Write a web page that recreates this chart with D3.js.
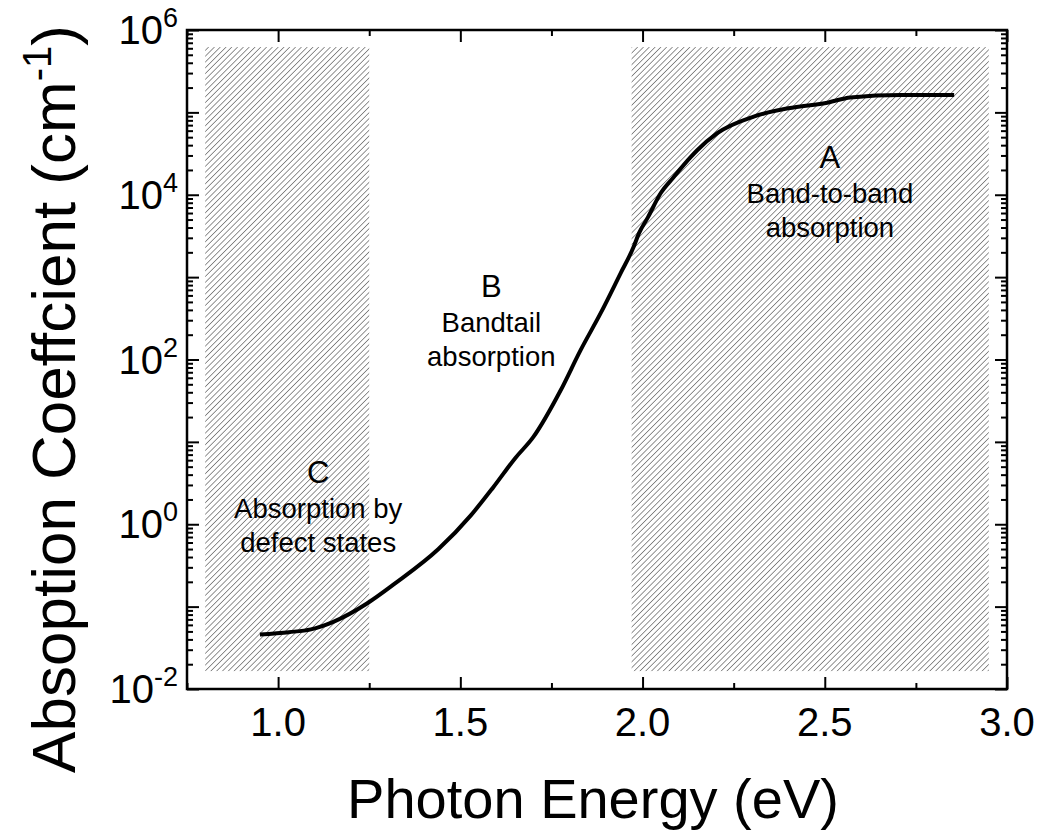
<!DOCTYPE html>
<html>
<head>
<meta charset="utf-8">
<script src="https://cdn.jsdelivr.net/npm/d3@7"></script>
<style>
  html, body { margin: 0; padding: 0; background: #fff; }
  svg text { font-family: "Liberation Sans", Arial, sans-serif; fill: #000; }
</style>
</head>
<body>
<svg id="chart" width="1042" height="830"></svg>
<script>
// ---- Data ----
const energy = [0.95, 1.03, 1.09, 1.15, 1.245, 1.32, 1.44, 1.53, 1.59, 1.65, 1.70, 1.775, 1.83, 1.885, 1.94, 1.975, 1.99, 2.015, 2.05, 2.085, 2.13, 2.15, 2.205, 2.305, 2.40, 2.51, 2.57, 2.71, 2.855];
const alpha  = [0.046, 0.049, 0.053, 0.065, 0.11, 0.19, 0.50, 1.3, 2.8, 6.3, 11.4, 42, 130, 365, 1120, 2300, 3400, 5350, 10500, 16300, 28000, 34700, 56000, 89000, 112000, 132000, 152000, 162000, 162000];

const regionStart = [0.80, 1.97];
const regionEnd   = [1.25, 2.95];
const regionTop = 6.2e5;
const regionBottom = 0.0165;

const xMajor = [1.0, 1.5, 2.0, 2.5, 3.0];
const xMinor = [0.75, 1.25, 1.75, 2.25, 2.75];
const yMajorExp = [-2, 0, 2, 4, 6];

const labelLetters = ["A", "B", "C"];
const labelLines = [["Band-to-band", "absorption"], ["Bandtail", "absorption"], ["Absorption by", "defect states"]];
const labelX = [2.514, 1.585, 1.11];
const labelY = [21000, 571, 3.16];

// ---- Layout ----
const svg = d3.select("#chart");
const L = 187, R = 1007, T = 30, B = 689;
const x = d3.scaleLinear().domain([0.75, 3.0]).range([L, R]);
const y = d3.scaleLog().domain([1e-2, 1e6]).range([B, T]);

// hatch pattern
const defs = svg.append("defs");
defs.append("pattern")
  .attr("id", "hatch").attr("patternUnits", "userSpaceOnUse")
  .attr("width", 4.1).attr("height", 4.1)
  .attr("patternTransform", "rotate(45)")
  .append("line").attr("x1", 0).attr("y1", -1).attr("x2", 0).attr("y2", 5.1)
  .attr("stroke", "#6f6f6f").attr("stroke-width", 1.5);

svg.append("g").selectAll("rect").data(regionStart).join("rect")
  .attr("x", (d) => x(d))
  .attr("width", (d, i) => x(regionEnd[i]) - x(d))
  .attr("y", y(regionTop))
  .attr("height", y(regionBottom) - y(regionTop))
  .attr("fill", "url(#hatch)");

// curve
const pts = energy.map((e, i) => [e, alpha[i]]);
svg.append("path").datum(pts)
  .attr("fill", "none").attr("stroke", "#000").attr("stroke-width", 4)
  .attr("stroke-linejoin", "round").attr("stroke-linecap", "butt")
  .attr("d", d3.line().x(d => x(d[0])).y(d => y(d[1])).curve(d3.curveMonotoneX));

// y minor values
const yMinorVals = [];
for (let e = -2; e < 6; e++) for (let k = 2; k <= 9; k++) yMinorVals.push(k * Math.pow(10, e));
const yMajorVals = d3.range(-2, 7).map(e => Math.pow(10, e));

function styleAxis(g) {
  g.select(".domain").remove();
  g.selectAll(".tick line").attr("stroke", "#000").attr("stroke-width", 2);
  g.selectAll(".tick text").remove();
}

// bottom
svg.append("g").attr("transform", `translate(0,${B})`)
  .call(d3.axisBottom(x).tickValues(xMajor).tickSizeInner(-12).tickSizeOuter(0)).call(styleAxis);
svg.append("g").attr("transform", `translate(0,${B})`)
  .call(d3.axisBottom(x).tickValues(xMinor).tickSizeInner(-6).tickSizeOuter(0)).call(styleAxis);
// top
svg.append("g").attr("transform", `translate(0,${T})`)
  .call(d3.axisTop(x).tickValues(xMajor).tickSizeInner(-12).tickSizeOuter(0)).call(styleAxis);
svg.append("g").attr("transform", `translate(0,${T})`)
  .call(d3.axisTop(x).tickValues(xMinor).tickSizeInner(-6).tickSizeOuter(0)).call(styleAxis);
// left
svg.append("g").attr("transform", `translate(${L},0)`)
  .call(d3.axisLeft(y).tickValues(yMajorVals).tickSizeInner(-12).tickSizeOuter(0)).call(styleAxis);
svg.append("g").attr("transform", `translate(${L},0)`)
  .call(d3.axisLeft(y).tickValues(yMinorVals).tickSizeInner(-6).tickSizeOuter(0)).call(styleAxis);
// right
svg.append("g").attr("transform", `translate(${R},0)`)
  .call(d3.axisRight(y).tickValues(yMajorVals).tickSizeInner(-12).tickSizeOuter(0)).call(styleAxis);
svg.append("g").attr("transform", `translate(${R},0)`)
  .call(d3.axisRight(y).tickValues(yMinorVals).tickSizeInner(-6).tickSizeOuter(0)).call(styleAxis);

// frame
svg.append("rect").attr("x", L).attr("y", T).attr("width", R - L).attr("height", B - T)
  .attr("fill", "none").attr("stroke", "#000").attr("stroke-width", 2.5);

// x tick labels
svg.append("g").selectAll("text").data(xMajor).join("text")
  .attr("x", d => x(d)).attr("y", B + 47)
  .attr("text-anchor", "middle").attr("font-size", 40)
  .text(d => d.toFixed(1));

// y tick labels
const yl = svg.append("g").selectAll("text").data(yMajorExp).join("text")
  .attr("x", 178).attr("y", d => y(Math.pow(10, d)) + 14)
  .attr("text-anchor", "end").attr("font-size", 40);
yl.append("tspan").text("10");
yl.append("tspan").attr("dy", -17).attr("font-size", 27).text(d => d);

// axis titles
svg.append("text").attr("x", (L + R) / 2 - 4).attr("y", 818)
  .attr("text-anchor", "middle").attr("font-size", 56).text("Photon Energy (eV)");

const yt = svg.append("text")
  .attr("transform", `translate(75,${399}) rotate(-90)`)
  .attr("text-anchor", "middle").attr("font-size", 62);
yt.append("tspan").text("Absoption Coeffcient (cm");
yt.append("tspan").attr("dy", -24).attr("font-size", 40).text("-1");
yt.append("tspan").attr("dy", 24).text(")");

// annotations
const ann = svg.append("g");
labelLetters.forEach((letter, i) => {
  const cx = x(labelX[i]);
  const cy = y(labelY[i]);
  ann.append("text").attr("x", cx).attr("y", cy).attr("text-anchor", "middle")
    .attr("font-size", 31).text(letter);
  labelLines[i].forEach((ln, j) => {
    ann.append("text").attr("x", cx).attr("y", cy + 35 + j * 34).attr("text-anchor", "middle")
      .attr("font-size", 27.5).text(ln);
  });
});
</script>
</body>
</html>
